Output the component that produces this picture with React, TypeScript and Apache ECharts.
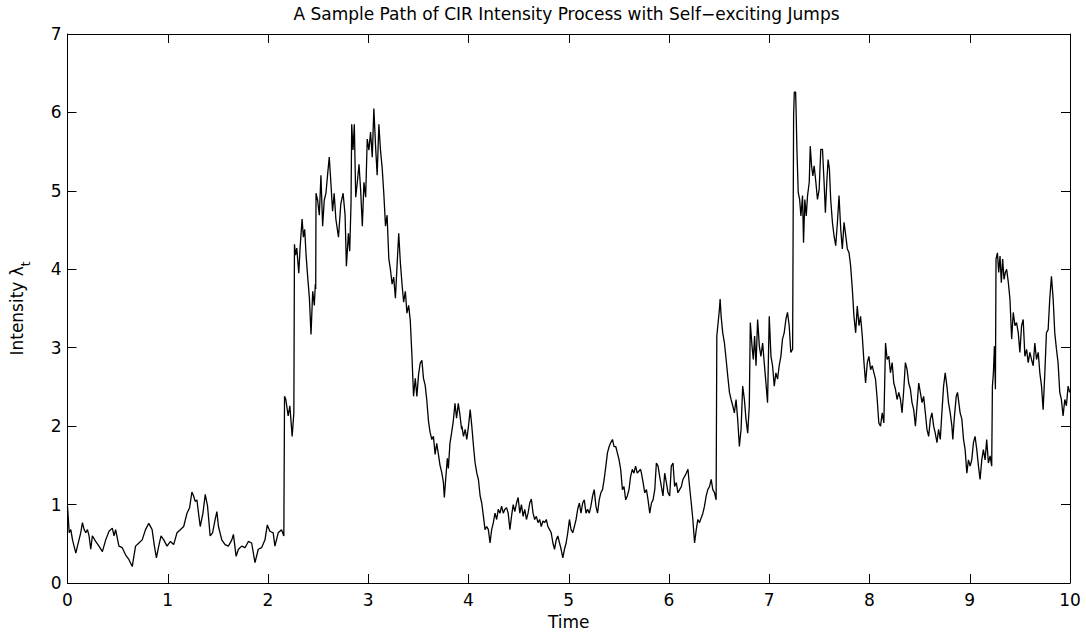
import React, { useEffect, useRef } from "react";
import * as echarts from "echarts";

// Time range 0 - 2.26 (quiet start, first jump at ~2.16)
const pathSegA: [number, number][] = [
  [0, 0.98], [0.017, 0.64], [0.033, 0.68], [0.05, 0.55], [0.083, 0.38], [0.099, 0.47], [0.132, 0.64],
  [0.149, 0.77], [0.166, 0.68], [0.182, 0.64], [0.199, 0.68], [0.215, 0.6], [0.232, 0.43], [0.248, 0.6],
  [0.281, 0.53], [0.314, 0.47], [0.348, 0.4], [0.381, 0.55], [0.414, 0.66], [0.447, 0.7], [0.464, 0.6],
  [0.48, 0.68], [0.513, 0.47], [0.546, 0.45], [0.579, 0.36], [0.612, 0.3], [0.646, 0.21], [0.662, 0.34],
  [0.679, 0.47], [0.712, 0.51], [0.745, 0.55], [0.778, 0.68], [0.811, 0.76], [0.844, 0.68], [0.867, 0.47],
  [0.887, 0.32], [0.91, 0.47], [0.933, 0.6], [0.96, 0.55], [0.993, 0.47], [1.026, 0.53], [1.059, 0.49],
  [1.092, 0.64], [1.125, 0.68], [1.159, 0.72], [1.192, 0.89], [1.218, 0.96], [1.241, 1.16], [1.258, 1.11],
  [1.274, 1.04], [1.291, 1.06], [1.307, 0.89], [1.324, 0.72], [1.351, 0.89], [1.374, 1.13], [1.397, 0.98],
  [1.423, 0.6], [1.447, 0.64], [1.473, 0.81], [1.49, 0.91], [1.506, 0.72], [1.539, 0.55], [1.572, 0.49],
  [1.605, 0.47], [1.639, 0.55], [1.655, 0.62], [1.682, 0.34], [1.705, 0.43], [1.738, 0.47], [1.771, 0.45],
  [1.804, 0.53], [1.837, 0.51], [1.87, 0.26], [1.903, 0.43], [1.936, 0.45], [1.97, 0.55], [1.993, 0.74],
  [2.019, 0.66], [2.052, 0.64], [2.069, 0.47], [2.102, 0.64], [2.135, 0.68], [2.158, 0.6], [2.165, 2.38],
  [2.178, 2.34], [2.201, 2.13], [2.218, 2.26], [2.241, 1.87], [2.258, 2.17],
];

// Time range 2.26 - 3.93 (two more jumps, peak ~6)
const pathSegB: [number, number][] = [
  [2.264, 4.32], [2.274, 4.18], [2.287, 4.27], [2.307, 3.95], [2.32, 4.27], [2.34, 4.64], [2.353, 4.41],
  [2.366, 4.51], [2.38, 4.18], [2.396, 3.9], [2.413, 3.63], [2.429, 3.17], [2.446, 3.72], [2.462, 3.54],
  [2.472, 3.81], [2.476, 3.75], [2.479, 4.97], [2.495, 4.88], [2.512, 4.69], [2.528, 5.2], [2.545, 4.55],
  [2.561, 4.88], [2.578, 4.97], [2.594, 5.2], [2.611, 5.43], [2.627, 5.11], [2.644, 4.74], [2.66, 4.97],
  [2.677, 4.64], [2.703, 4.41], [2.726, 4.83], [2.749, 4.97], [2.769, 4.69], [2.782, 4.04], [2.802, 4.46],
  [2.815, 4.23], [2.828, 4.83], [2.835, 5.85], [2.848, 5.52], [2.861, 5.85], [2.875, 4.92], [2.891, 5.11],
  [2.908, 5.34], [2.924, 5.01], [2.941, 4.55], [2.957, 5.11], [2.974, 4.92], [2.99, 5.66], [3.007, 5.52],
  [3.023, 5.75], [3.04, 5.43], [3.056, 6.05], [3.073, 5.57], [3.089, 5.2], [3.106, 5.85], [3.122, 5.52],
  [3.139, 5.29], [3.155, 4.97], [3.172, 4.55], [3.188, 4.69], [3.205, 4.14], [3.221, 4.0], [3.238, 3.81],
  [3.254, 3.9], [3.271, 3.63], [3.287, 4.04], [3.304, 4.46], [3.32, 4.09], [3.337, 3.81], [3.353, 3.58],
  [3.37, 3.72], [3.386, 3.44], [3.403, 3.54], [3.419, 3.35], [3.436, 2.89], [3.452, 2.38], [3.469, 2.61],
  [3.485, 2.38], [3.502, 2.66], [3.518, 2.8], [3.535, 2.84], [3.551, 2.61], [3.568, 2.52], [3.584, 2.33],
  [3.601, 2.06], [3.617, 1.92], [3.634, 1.83], [3.65, 1.87], [3.667, 1.64], [3.683, 1.78], [3.7, 1.64],
  [3.716, 1.5], [3.733, 1.41], [3.749, 1.29], [3.759, 1.09], [3.772, 1.32], [3.789, 1.59], [3.799, 1.46],
  [3.815, 1.78], [3.832, 1.92], [3.848, 2.06], [3.865, 2.29], [3.881, 2.1], [3.898, 2.29], [3.914, 2.15],
  [3.931, 1.96],
];

// Time range 3.93 - 5.72 (low plateau)
const pathSegC: [number, number][] = [
  [3.934, 2.0], [3.95, 1.87], [3.967, 1.96], [3.983, 1.83], [4.0, 2.0], [4.017, 2.21], [4.033, 2.0],
  [4.05, 1.74], [4.066, 1.53], [4.083, 1.4], [4.099, 1.32], [4.116, 1.11], [4.132, 1.02], [4.149, 0.85],
  [4.165, 0.68], [4.182, 0.72], [4.198, 0.68], [4.215, 0.51], [4.231, 0.68], [4.248, 0.77], [4.264, 0.89],
  [4.281, 0.81], [4.297, 0.94], [4.314, 0.89], [4.33, 0.98], [4.347, 0.89], [4.363, 0.94], [4.38, 0.96],
  [4.396, 0.89], [4.413, 0.68], [4.429, 0.85], [4.446, 1.0], [4.462, 0.91], [4.479, 1.02], [4.495, 1.09],
  [4.512, 0.89], [4.528, 1.0], [4.545, 0.85], [4.561, 0.94], [4.578, 0.81], [4.594, 0.89], [4.611, 1.02],
  [4.627, 1.07], [4.644, 0.89], [4.66, 0.81], [4.677, 0.85], [4.693, 0.77], [4.71, 0.81], [4.726, 0.72],
  [4.743, 0.79], [4.759, 0.77], [4.776, 0.81], [4.792, 0.72], [4.809, 0.68], [4.825, 0.64], [4.842, 0.51],
  [4.858, 0.43], [4.875, 0.55], [4.891, 0.6], [4.908, 0.51], [4.924, 0.43], [4.941, 0.32], [4.957, 0.43],
  [4.974, 0.51], [4.99, 0.64], [5.007, 0.81], [5.023, 0.68], [5.04, 0.64], [5.056, 0.72], [5.073, 0.81],
  [5.089, 0.94], [5.106, 1.02], [5.122, 0.89], [5.139, 1.02], [5.155, 1.06], [5.172, 0.89], [5.188, 0.94],
  [5.205, 0.89], [5.221, 0.98], [5.238, 1.11], [5.254, 1.19], [5.271, 0.98], [5.287, 0.89], [5.304, 1.06],
  [5.32, 1.15], [5.337, 1.19], [5.353, 1.32], [5.37, 1.49], [5.386, 1.66], [5.403, 1.74], [5.419, 1.79],
  [5.436, 1.83], [5.452, 1.74], [5.469, 1.74], [5.485, 1.66], [5.502, 1.57], [5.518, 1.45], [5.535, 1.19],
  [5.551, 1.23], [5.568, 1.06], [5.584, 1.11], [5.601, 1.19], [5.617, 1.36], [5.634, 1.45], [5.65, 1.4],
  [5.667, 1.49], [5.683, 1.4], [5.716, 1.45],
];

// Time range 5.72 - 7.22 (jumps at ~6.48 and ~6.81)
const pathSegD: [number, number][] = [
  [5.725, 1.4], [5.742, 1.28], [5.758, 1.15], [5.775, 1.19], [5.791, 1.06], [5.808, 0.89], [5.825, 1.02],
  [5.841, 1.06], [5.858, 1.19], [5.874, 1.53], [5.891, 1.49], [5.907, 1.36], [5.924, 1.23], [5.94, 1.11],
  [5.957, 1.4], [5.974, 1.28], [5.99, 1.15], [6.007, 1.11], [6.023, 1.49], [6.04, 1.53], [6.056, 1.23],
  [6.073, 1.28], [6.089, 1.15], [6.106, 1.19], [6.123, 1.23], [6.139, 1.32], [6.156, 1.36], [6.172, 1.4],
  [6.189, 1.45], [6.205, 1.23], [6.222, 1.02], [6.238, 0.81], [6.255, 0.51], [6.272, 0.68], [6.288, 0.81],
  [6.305, 0.77], [6.321, 0.83], [6.338, 0.89], [6.354, 0.98], [6.371, 1.11], [6.387, 1.19], [6.404, 1.23],
  [6.421, 1.32], [6.437, 1.19], [6.454, 1.15], [6.47, 1.06], [6.477, 3.15], [6.487, 3.28], [6.503, 3.49],
  [6.51, 3.62], [6.52, 3.4], [6.536, 3.19], [6.553, 3.06], [6.57, 2.85], [6.586, 2.64], [6.603, 2.43],
  [6.619, 2.34], [6.636, 2.26], [6.652, 2.17], [6.669, 2.34], [6.685, 2.09], [6.702, 1.74], [6.719, 1.96],
  [6.735, 2.51], [6.752, 2.34], [6.768, 2.09], [6.785, 1.91], [6.801, 2.26], [6.811, 3.32], [6.828, 3.02],
  [6.841, 2.85], [6.854, 3.15], [6.868, 2.77], [6.884, 3.36], [6.901, 3.02], [6.917, 2.89], [6.934, 3.06],
  [6.95, 2.81], [6.967, 2.55], [6.983, 2.3], [7.0, 3.4], [7.017, 2.89], [7.033, 2.77], [7.05, 2.51],
  [7.066, 2.68], [7.083, 2.6], [7.099, 2.77], [7.116, 2.89], [7.132, 3.11], [7.149, 3.19], [7.166, 3.36],
  [7.182, 3.45], [7.199, 3.28], [7.215, 2.94],
];

// Time range 7.23 - 8.71 (big jump to ~6.3, then decay)
const pathSegE: [number, number][] = [
  [7.233, 2.98], [7.243, 5.96], [7.25, 6.26], [7.263, 6.26], [7.269, 5.96], [7.276, 5.53], [7.289, 4.98],
  [7.303, 4.89], [7.316, 4.68], [7.332, 4.94], [7.342, 4.34], [7.355, 4.89], [7.369, 4.68], [7.382, 4.94],
  [7.399, 5.11], [7.409, 5.57], [7.422, 5.32], [7.435, 5.19], [7.448, 5.32], [7.465, 5.11], [7.481, 4.89],
  [7.498, 5.02], [7.514, 5.53], [7.531, 5.53], [7.547, 5.11], [7.56, 4.72], [7.574, 5.11], [7.587, 5.4],
  [7.6, 5.28], [7.613, 4.89], [7.63, 4.6], [7.646, 4.43], [7.663, 4.3], [7.68, 4.6], [7.696, 4.94],
  [7.713, 4.51], [7.729, 4.26], [7.746, 4.6], [7.763, 4.43], [7.779, 4.26], [7.796, 4.21], [7.812, 4.04],
  [7.829, 3.74], [7.845, 3.4], [7.862, 3.19], [7.878, 3.53], [7.895, 3.28], [7.911, 3.4], [7.928, 3.15],
  [7.945, 2.81], [7.961, 2.55], [7.978, 2.81], [7.994, 2.89], [8.011, 2.72], [8.027, 2.77], [8.044, 2.68],
  [8.06, 2.6], [8.077, 2.34], [8.093, 2.04], [8.11, 2.0], [8.127, 2.17], [8.143, 2.04], [8.16, 3.06],
  [8.176, 2.85], [8.193, 2.89], [8.209, 2.68], [8.226, 2.81], [8.242, 2.55], [8.259, 2.47], [8.275, 2.34],
  [8.292, 2.43], [8.309, 2.34], [8.325, 2.17], [8.342, 2.47], [8.358, 2.81], [8.375, 2.72], [8.391, 2.55],
  [8.408, 2.47], [8.424, 2.3], [8.441, 2.21], [8.458, 2.0], [8.474, 2.26], [8.491, 2.55], [8.507, 2.43],
  [8.524, 2.3], [8.54, 2.38], [8.557, 2.17], [8.573, 1.96], [8.59, 1.87], [8.607, 2.09], [8.623, 2.17],
  [8.64, 2.0], [8.656, 1.91], [8.673, 1.79], [8.689, 1.96], [8.706, 1.83],
];

// Time range 8.72 - 10 (jumps at ~9.23 and ~9.26)
const pathSegF: [number, number][] = [
  [8.722, 2.17], [8.739, 2.51], [8.755, 2.68], [8.772, 2.51], [8.788, 2.3], [8.805, 2.17], [8.822, 2.0],
  [8.831, 1.83], [8.845, 2.09], [8.865, 2.38], [8.878, 2.43], [8.891, 2.3], [8.904, 2.17], [8.921, 2.09],
  [8.938, 1.83], [8.954, 1.7], [8.971, 1.4], [8.987, 1.57], [9.004, 1.49], [9.02, 1.57], [9.037, 1.79],
  [9.053, 1.87], [9.07, 1.7], [9.087, 1.49], [9.103, 1.32], [9.12, 1.57], [9.136, 1.7], [9.153, 1.57],
  [9.169, 1.83], [9.186, 1.53], [9.203, 1.62], [9.219, 1.49], [9.226, 2.51], [9.236, 2.68], [9.246, 3.02],
  [9.256, 2.47], [9.262, 4.13], [9.276, 4.21], [9.289, 3.96], [9.302, 4.17], [9.315, 3.83], [9.328, 4.13],
  [9.342, 3.87], [9.355, 3.96], [9.368, 4.0], [9.385, 3.83], [9.401, 3.62], [9.418, 3.11], [9.434, 3.45],
  [9.451, 3.28], [9.467, 3.32], [9.484, 3.19], [9.5, 2.94], [9.517, 3.28], [9.533, 3.36], [9.55, 2.89],
  [9.567, 2.98], [9.583, 2.81], [9.6, 2.94], [9.616, 2.85], [9.633, 2.77], [9.649, 3.06], [9.666, 2.85],
  [9.683, 2.94], [9.699, 2.68], [9.716, 2.51], [9.732, 2.21], [9.749, 2.68], [9.765, 3.19], [9.782, 3.23],
  [9.798, 3.62], [9.815, 3.91], [9.832, 3.62], [9.848, 3.19], [9.865, 2.98], [9.881, 2.81], [9.898, 2.43],
  [9.914, 2.34], [9.931, 2.13], [9.948, 2.34], [9.964, 2.26], [9.981, 2.51], [9.997, 2.43], [10.0, 2.45],
];

const titleText = "A Sample Path of CIR Intensity Process with Self\u2212exciting Jumps";
const xAxisName = "Time";
const yAxisName = "Intensity \u03bb{sub|t}";
const xRange = { min: 0, max: 10, step: 1 };
const yRange = { min: 0, max: 7, step: 1 };

const FONT = "DejaVu Sans";

export default function App() {
  const ref = useRef<HTMLDivElement>(null);

  useEffect(() => {
    if (!ref.current) return;
    const chart = echarts.init(ref.current, null, { renderer: "svg" });
    const pathData = [...pathSegA, ...pathSegB, ...pathSegC, ...pathSegD, ...pathSegE, ...pathSegF];

    const axisLine = { show: true, onZero: false, lineStyle: { color: "#000", width: 1 } };
    const axisTick = { show: true, inside: true, length: 9, lineStyle: { color: "#000", width: 1 } };
    const labelStyle = { color: "#000", fontSize: 17, fontFamily: FONT };

    chart.setOption({
      animation: false,
      backgroundColor: "#fff",
      grid: { left: 63, right: 16, top: 34, bottom: 54, containLabel: false },
      graphic: [
        {
          type: "text",
          x: 566.5,
          y: 5,
          style: {
            text: titleText,
            fontSize: 17,
            fontFamily: FONT,
            fill: "#000",
            align: "center",
            verticalAlign: "top",
          },
        },
      ],
      xAxis: [
        {
          type: "value",
          position: "bottom",
          min: xRange.min,
          max: xRange.max,
          interval: xRange.step,
          axisLine,
          axisTick,
          splitLine: { show: false },
          axisLabel: { ...labelStyle, margin: 8 },
          name: xAxisName,
          nameLocation: "middle",
          nameGap: 30,
          nameTextStyle: labelStyle,
        },
        {
          type: "value",
          position: "top",
          min: xRange.min,
          max: xRange.max,
          interval: xRange.step,
          axisLine,
          axisTick,
          splitLine: { show: false },
          axisLabel: { show: false },
        },
      ],
      yAxis: [
        {
          type: "value",
          position: "left",
          min: yRange.min,
          max: yRange.max,
          interval: yRange.step,
          axisLine,
          axisTick,
          splitLine: { show: false },
          axisLabel: { ...labelStyle, margin: 6 },
          name: yAxisName,
          nameLocation: "middle",
          nameGap: 36,
          nameTextStyle: {
            ...labelStyle,
            rich: {
              sub: {
                fontSize: 12,
                fontFamily: FONT,
                color: "#000",
                verticalAlign: "bottom",
                lineHeight: 30,
              },
            },
          },
        },
        {
          type: "value",
          position: "right",
          min: yRange.min,
          max: yRange.max,
          interval: yRange.step,
          axisLine,
          axisTick,
          splitLine: { show: false },
          axisLabel: { show: false },
        },
      ],
      series: [
        {
          type: "line",
          xAxisIndex: 0,
          yAxisIndex: 0,
          data: pathData,
          showSymbol: false,
          symbol: "none",
          lineStyle: { color: "#000", width: 1.3 },
          clip: true,
        },
      ],
    });

    return () => chart.dispose();
  }, []);

  return (
    <div
      ref={ref}
      style={{ position: "fixed", left: 0, top: 0, width: 1086, height: 637, background: "#fff" }}
    />
  );
}
